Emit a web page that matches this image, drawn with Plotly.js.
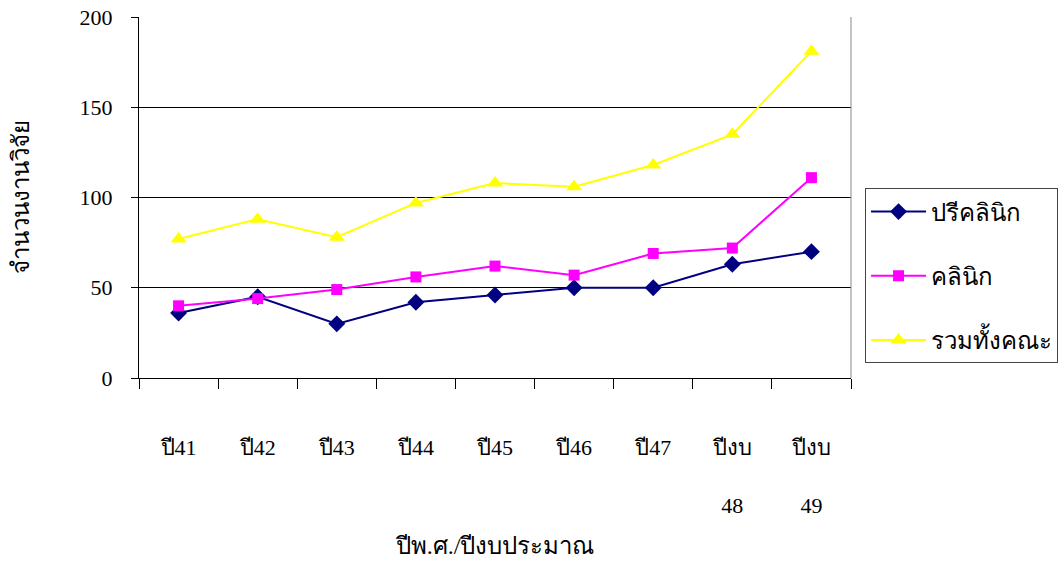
<!DOCTYPE html>
<html>
<head>
<meta charset="utf-8">
<script src="https://cdn.plot.ly/plotly-3.0.1.min.js"></script>
<style>html,body{margin:0;padding:0;background:#fff;}#chart{width:1061px;height:561px;}</style>
</head>
<body>
<div id="chart"></div>
<script>
const categories = ["ปี41","ปี42","ปี43","ปี44","ปี45","ปี46","ปี47","ปีงบ<br><br>48","ปีงบ<br><br>49"];
const preclinic = [36, 45, 30, 42, 46, 50, 50, 63, 70];
const clinic = [40, 44, 49, 56, 62, 57, 69, 72, 111];
const total = [77, 88, 78, 97, 108, 106, 118, 135, 181];
const seriesNames = ["ปรีคลินิก","คลินิก","รวมทั้งคณะ"];
const yTicks = [0, 50, 100, 150, 200];

const F = "Liberation Serif, serif";

const traces = [
  {x: categories, y: preclinic, name: seriesNames[0], type: "scatter", mode: "lines+markers",
   line: {color: "#000080", width: 2}, marker: {symbol: "diamond", size: 13, color: "#000080"}, legendgroup: "a"},
  {x: categories, y: clinic, name: seriesNames[1], type: "scatter", mode: "lines+markers",
   line: {color: "#FF00FF", width: 2}, marker: {symbol: "square", size: 11, color: "#FF00FF"}, legendgroup: "b"},
  {x: categories, y: total, name: seriesNames[2], type: "scatter", mode: "lines+markers",
   line: {color: "#FFFF00", width: 2}, marker: {symbol: "triangle-up", size: 14, color: "#FFFF00"}, legendgroup: "c"}
];

const layout = {
  width: 1061, height: 561,
  margin: {l: 139, r: 210, t: 17, b: 183, autoexpand: false},
  paper_bgcolor: "#fff", plot_bgcolor: "#fff",
  font: {family: F, size: 22, color: "#000"},
  showlegend: true,
  legend: {
    x: 1.0197, xanchor: "left", y: 0.525, yanchor: "top",
    bordercolor: "#444", borderwidth: 1, bgcolor: "#fff",
    font: {family: F, size: 24, color: "#000"},
    traceorder: "grouped", tracegroupgap: 30, itemwidth: 55
  },
  xaxis: {
    type: "category",
    showgrid: false, zeroline: false,
    showline: true, linecolor: "#000", linewidth: 1,
    ticks: "outside", tickson: "boundaries", ticklen: 10, tickcolor: "#000",
    ticklabelstandoff: 50,
    tickfont: {family: F, size: 22, color: "#000"},
    title: {text: "ปีพ.ศ./ปีงบประมาณ", font: {family: F, size: 24, color: "#000"}, standoff: 20},
    range: [-0.5, 8.5], fixedrange: true
  },
  yaxis: {
    range: [0, 200], tickvals: yTicks, ticktext: yTicks.map(String),
    showgrid: true, gridcolor: "#000", gridwidth: 1,
    zeroline: false, showline: true, linecolor: "#000", linewidth: 1,
    ticks: "outside", ticklen: 7, tickcolor: "#000",
    ticklabelstandoff: 14,
    tickfont: {family: F, size: 22, color: "#000"},
    title: {text: "จำนวนงานวิจัย", font: {family: F, size: 24, color: "#000"}, standoff: 43},
    fixedrange: true
  },
  shapes: [
    {type: "line", xref: "paper", yref: "paper", x0: 1, x1: 1, y0: 0, y1: 1, line: {color: "#888", width: 1}}
  ]
};

Plotly.newPlot("chart", traces, layout, {displayModeBar: false, staticPlot: true});
</script>
</body>
</html>
